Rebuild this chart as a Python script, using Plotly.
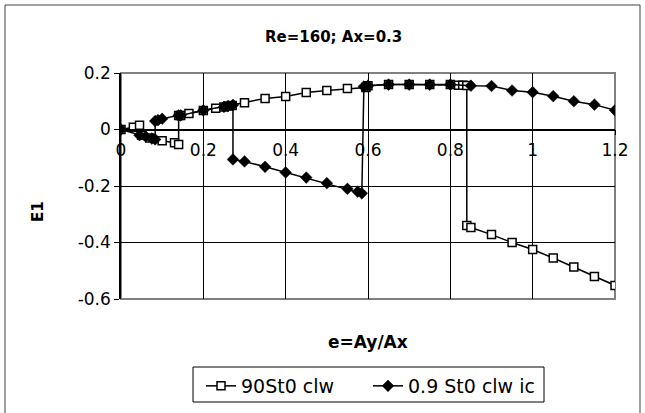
import plotly.graph_objects as go

# Series 1: "90St0 clw" (open squares)
sq_x = [0.0, 0.03, 0.045, 0.05, 0.07, 0.10, 0.13, 0.14, 0.14, 0.145, 0.165, 0.20, 0.23, 0.25, 0.26, 0.27,
        0.30, 0.35, 0.40, 0.45, 0.50, 0.55, 0.595, 0.60, 0.65, 0.70, 0.75, 0.80, 0.82, 0.83, 0.84,
        0.84, 0.85, 0.90, 0.95, 1.00, 1.05, 1.10, 1.15, 1.20]
sq_y = [0.0, 0.008, 0.015, -0.02, -0.03, -0.04, -0.047, -0.053, 0.05, 0.05, 0.057, 0.067, 0.075, 0.08, 0.083, 0.085,
        0.095, 0.11, 0.117, 0.131, 0.138, 0.145, 0.149, 0.155, 0.159, 0.159, 0.159, 0.159, 0.157, 0.157, 0.156,
        -0.34, -0.347, -0.372, -0.40, -0.425, -0.455, -0.487, -0.52, -0.552]

# Series 2: "0.9 St0 clw ic" (filled diamonds)
di_x = [0.0, 0.045, 0.06, 0.075, 0.083, 0.083, 0.09, 0.10, 0.14, 0.145, 0.20, 0.25, 0.26, 0.272,
        0.272, 0.30, 0.35, 0.40, 0.45, 0.50, 0.55, 0.575, 0.585,
        0.59, 0.60, 0.65, 0.70, 0.75, 0.80, 0.85, 0.90, 0.95, 1.00, 1.05, 1.10, 1.15, 1.20]
di_y = [0.0, -0.02, -0.025, -0.032, -0.035, 0.03, 0.033, 0.038, 0.05, 0.05, 0.068, 0.08, 0.083, 0.087,
        -0.106, -0.113, -0.132, -0.152, -0.17, -0.19, -0.21, -0.22, -0.226,
        0.152, 0.155, 0.159, 0.159, 0.159, 0.159, 0.155, 0.154, 0.138, 0.132, 0.118, 0.10, 0.088, 0.068]

x_ticks = [0, 0.2, 0.4, 0.6, 0.8, 1.0, 1.2]
x_labels = ["0", "0.2", "0.4", "0.6", "0.8", "1", "1.2"]
y_ticks = [0.2, 0, -0.2, -0.4, -0.6]
y_labels = ["0.2", "0", "-0.2", "-0.4", "-0.6"]

FONT = "DejaVu Sans, Arial, sans-serif"
W, H = 645, 413
L, R, T, B = 121, 615, 73, 299

fig = go.Figure()
fig.add_trace(go.Scatter(x=sq_x, y=sq_y, mode="lines+markers", name="90St0 clw",
                         line=dict(color="black", width=1.5),
                         marker=dict(symbol="square", size=8, color="white",
                                     line=dict(color="black", width=1.5))))
fig.add_trace(go.Scatter(x=di_x, y=di_y, mode="lines+markers", name="0.9 St0 clw ic",
                         line=dict(color="black", width=1.5),
                         marker=dict(symbol="diamond", size=9, color="black",
                                     line=dict(color="black", width=0.5))))

def px2paper_x(p):
    return (p - L) / (R - L)

def px2paper_y(p):
    return (B - p) / (B - T)

shapes = [
    # plot area frame
    dict(type="rect", xref="paper", yref="paper", x0=0, x1=1, y0=0, y1=1,
         line=dict(color="#808080", width=2), layer="below"),
    # outer chart border
    dict(type="rect", xref="paper", yref="paper",
         x0=px2paper_x(5), x1=px2paper_x(640), y0=px2paper_y(430), y1=px2paper_y(5),
         line=dict(color="#404040", width=1)),
    # legend box
    dict(type="rect", xref="paper", yref="paper",
         x0=px2paper_x(193), x1=px2paper_x(544), y0=px2paper_y(402), y1=px2paper_y(367),
         line=dict(color="black", width=1)),
]

fig.update_layout(
    width=W, height=H,
    margin=dict(l=L, r=W - R, t=T, b=H - B, autoexpand=False),
    paper_bgcolor="white", plot_bgcolor="white",
    font=dict(family=FONT, size=17, color="black"),
    showlegend=True,
    legend=dict(orientation="h", xref="container", yref="container",
                x=201 / W, y=1 - 386 / H, xanchor="left", yanchor="middle",
                font=dict(size=19, family=FONT), bgcolor="rgba(0,0,0,0)",
                entrywidth=122, entrywidthmode="pixels",
                itemwidth=30, tracegroupgap=0),
    shapes=shapes,
    annotations=[
        dict(text="<b>Re=160; Ax=0.3</b>", xref="paper", yref="paper",
             x=px2paper_x(333), y=px2paper_y(37), showarrow=False,
             xanchor="center", yanchor="middle",
             font=dict(size=15, family=FONT)),
        dict(text="<b>e=Ay/Ax</b>", xref="paper", yref="paper",
             x=px2paper_x(368), y=px2paper_y(342), showarrow=False,
             xanchor="center", yanchor="middle",
             font=dict(size=17, family=FONT)),
        dict(text="<b>E1</b>", xref="paper", yref="paper",
             x=px2paper_x(38), y=px2paper_y(212), showarrow=False, textangle=-90,
             xanchor="center", yanchor="middle",
             font=dict(size=15, family=FONT)),
    ],
)

fig.update_xaxes(range=[0, 1.2], tickvals=x_ticks, ticktext=x_labels,
                 showgrid=True, gridcolor="black", gridwidth=1,
                 zeroline=False, showline=True, linecolor="black", linewidth=1.5,
                 anchor="free", position=0.75,
                 ticks="outside", ticklen=5, tickcolor="black",
                 tickfont=dict(size=17, family=FONT))
fig.update_yaxes(range=[-0.6, 0.2], tickvals=y_ticks, ticktext=y_labels,
                 showgrid=True, gridcolor="black", gridwidth=1,
                 zeroline=False, showline=True, linecolor="black", linewidth=1.5,
                 ticks="outside", ticklen=5, tickcolor="black",
                 tickfont=dict(size=17, family=FONT))

fig.write_html("out.html",
               config={"displayModeBar": False},
               post_script="document.body.style.margin='0';document.body.style.padding='0';"
                           "document.body.style.overflow='hidden';")
